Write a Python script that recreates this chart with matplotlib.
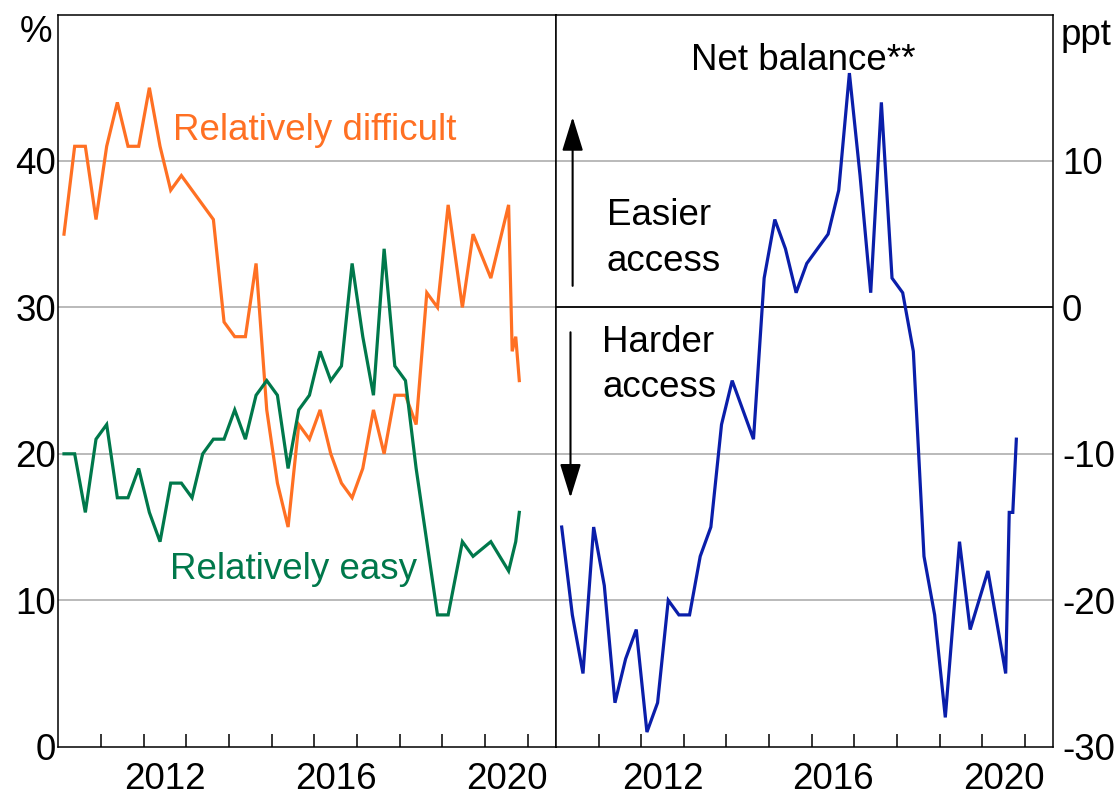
import matplotlib
matplotlib.use("Agg")
import matplotlib.pyplot as plt

plt.rcParams['font.family'] = ['Liberation Sans', 'DejaVu Sans']

# ---------------- data ----------------
quarter_dates = [f"{y}-{m:02d}" for y in range(2010, 2019) for m in (2, 5, 8, 11)]
later_dates = ["2019-02", "2019-06", "2019-09", "2020-02",
               "2020-07", "2020-08", "2020-09", "2020-10"]
dates = quarter_dates + later_dates

difficult = [35, 41, 41, 36, 41, 44, 41, 41, 45, 41, 38, 39,
             38, 37, 36,
             29, 28, 28, 33,
             23, 18, 15, 22, 21, 23, 20, 18,
             17, 19, 23, 20, 24, 24,
             22, 31, 30, 37,
             30, 35, 32, 37, 27, 28, 25]

easy = [20, 20, 16, 21, 22, 17, 17, 19, 16, 14, 18, 18,
        17, 20, 21,
        21, 23, 21, 24,
        25, 24, 19, 23, 24, 27, 25, 26,
        33, 28, 24, 34, 26, 25,
        19, 14, 9, 9,
        14, 13, 14, 12, 13, 14, 16]

net_balance = [-15, -21, -25, -15, -19, -27, -24, -22, -29, -27, -20, -21,
               -21, -17, -15,
               -8, -5, -7, -9,
               2, 6, 4, 1, 3, 4, 5, 8,
               16, 9, 1, 14, 2, 1,
               -3, -17, -21, -28,
               -16, -22, -18, -25, -14, -14, -9]

left_ticks = [0, 10, 20, 30, 40]
right_ticks = [-30, -20, -10, 0, 10]
year_labels = ['2012', '2016', '2020']


def to_year(s):
    y, m = s.split('-')
    return int(y) + (int(m) - 0.4) / 12.0


x = [to_year(d) for d in dates]

ORANGE = '#FF7023'
GREEN = '#00784B'
BLUE = '#0A1EAA'
GRID = '#B4B4B4'
FS = 26.5

W, H = 1116, 800
fig = plt.figure(figsize=(W / 100, H / 100), dpi=100)


def px(l, t, r, b):
    return [l / W, 1 - b / H, (r - l) / W, (b - t) / H]


axL = fig.add_axes(px(58.3, 14.5, 556, 746.7))
axR = fig.add_axes(px(556, 14.5, 1053, 746.7))

for ax in (axL, axR):
    ax.set_xlim(2010, 2021.66)
    ax.set_xticks(range(2011, 2022))
    ax.set_xticks([2012.5, 2016.5, 2020.5], minor=True)
    ax.set_xticklabels(year_labels, minor=True)
    ax.tick_params(axis='x', which='major', direction='in', length=9.5,
                   width=1.1, labelbottom=False, color='black')
    ax.tick_params(axis='x', which='minor', length=0, labelsize=FS, pad=11)
    for sp in ax.spines.values():
        sp.set_linewidth(1.1)
        sp.set_color('black')

# Left panel
axL.set_ylim(0, 50)
axL.set_yticks(left_ticks)
axL.set_yticklabels([str(v) for v in left_ticks])
axL.tick_params(axis='y', length=0, labelsize=FS, pad=1.5)
for v in [10, 20, 30, 40]:
    axL.axhline(v, color=GRID, lw=1.3, zorder=1)
axL.plot(x, difficult, color=ORANGE, lw=2.3, zorder=3, solid_joinstyle='miter')
axL.plot(x, easy, color=GREEN, lw=2.3, zorder=3, solid_joinstyle='miter')
axL.text(2012.69, 41.43, 'Relatively difficult', color=ORANGE, fontsize=FS,
         ha='left', va='baseline')
axL.text(2012.62, 11.47, 'Relatively easy', color=GREEN, fontsize=FS,
         ha='left', va='baseline')

# Right panel
axR.set_ylim(-30, 20)
axR.yaxis.tick_right()
axR.set_yticks(right_ticks)
axR.set_yticklabels([str(v) for v in right_ticks])
axR.tick_params(axis='y', length=0, labelsize=FS, pad=6.5)
for v in [-20, -10, 10]:
    axR.axhline(v, color=GRID, lw=1.3, zorder=1)
axR.axhline(0, color='black', lw=1.3, zorder=2)
axR.plot(x, net_balance, color=BLUE, lw=2.3, zorder=3, solid_joinstyle='miter')
axR.text(2015.81, 16.2, 'Net balance**', fontsize=FS, ha='center', va='baseline')
axR.text(2011.19, 5.63, 'Easier', fontsize=FS, ha='left', va='baseline')
axR.text(2011.19, 2.49, 'access', fontsize=FS, ha='left', va='baseline')
axR.text(2011.08, -3.07, 'Harder', fontsize=FS, ha='left', va='baseline')
axR.text(2011.08, -6.11, 'access', fontsize=FS, ha='left', va='baseline')
arrow_style = '-|>,head_length=2.1,head_width=0.65'
axR.annotate('', xy=(2010.39, 13.0), xytext=(2010.39, 1.47),
             arrowprops=dict(arrowstyle=arrow_style, color='black', lw=1.5,
                             shrinkA=0, shrinkB=0))
axR.annotate('', xy=(2010.34, -13.0), xytext=(2010.34, -1.7),
             arrowprops=dict(arrowstyle=arrow_style, color='black', lw=1.5,
                             shrinkA=0, shrinkB=0))

# Units
fig.text(36 / W, 1 - 33 / H, '%', fontsize=FS, ha='center', va='center')
fig.text(1061 / W, 1 - 45 / H, 'ppt', fontsize=FS, ha='left', va='baseline')

fig.savefig('out.png', dpi=100)
